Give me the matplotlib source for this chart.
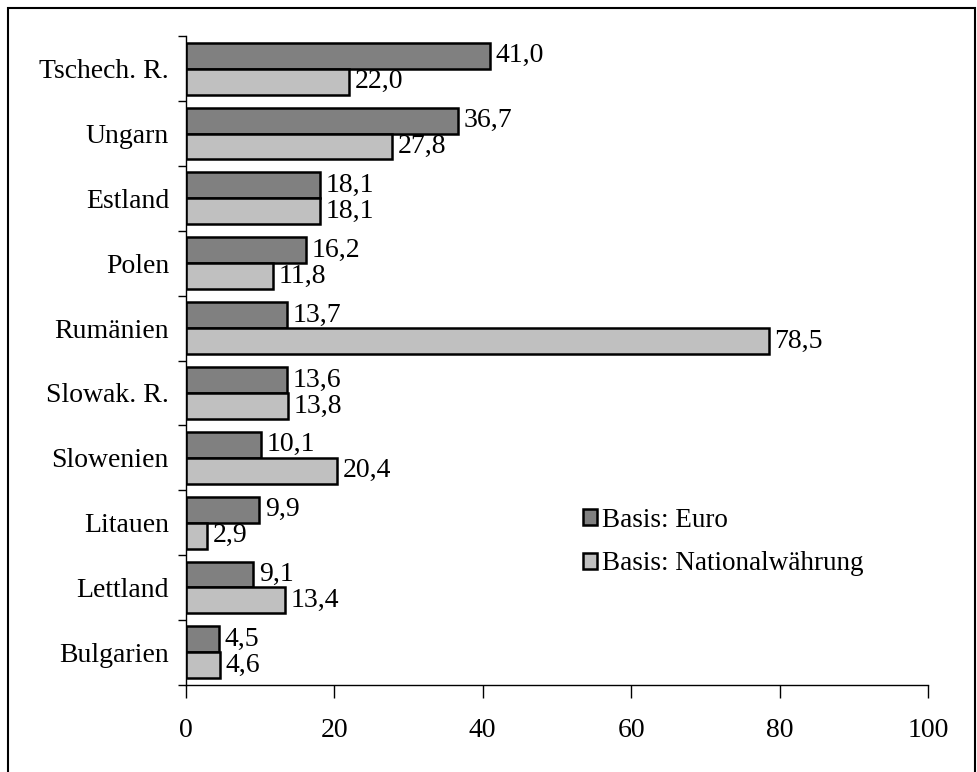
import matplotlib.pyplot as plt
import numpy as np
from matplotlib.patches import Rectangle

plt.rcParams["font.family"] = ["Liberation Serif", "DejaVu Serif"]

laender = ["Tschech. R.", "Ungarn", "Estland", "Polen", "Rumänien",
           "Slowak. R.", "Slowenien", "Litauen", "Lettland", "Bulgarien"]
euro = [41.0, 36.7, 18.1, 16.2, 13.7, 13.6, 10.1, 9.9, 9.1, 4.5]
national = [22.0, 27.8, 18.1, 11.8, 78.5, 13.8, 20.4, 2.9, 13.4, 4.6]
xticks = [0, 20, 40, 60, 80, 100]

fs = 20

fig = plt.figure(figsize=(9.77, 7.72), dpi=100)
ax = fig.add_axes([0.190, 0.113, 0.760, 0.840])

y = np.arange(len(laender))
h = 0.4
b1 = ax.barh(y - h / 2, euro, height=h, color="#808080", edgecolor="black",
             linewidth=1.8, label="Basis: Euro")
b2 = ax.barh(y + h / 2, national, height=h, color="#c0c0c0", edgecolor="black",
             linewidth=1.8, label="Basis: Nationalwährung")

for bars, vals in ((b1, euro), (b2, national)):
    ax.bar_label(bars, labels=[f"{v:.1f}".replace(".", ",") for v in vals],
                 padding=4, fontsize=fs)

ax.set_ylim(len(laender) - 0.5, -0.5)
ax.set_xlim(0, 100)
ax.set_xticks(xticks)
ax.set_xticklabels([str(t) for t in xticks], fontsize=fs)
ax.tick_params(axis="x", direction="out", length=9, width=1, pad=15)

ax.set_yticks(np.arange(-0.5, len(laender), 1.0))
ax.set_yticklabels([])
ax.tick_params(axis="y", which="major", direction="out", length=6, width=1)
ax.set_yticks(y, minor=True)
ax.set_yticklabels(laender, minor=True, fontsize=fs)
ax.tick_params(axis="y", which="minor", length=0, pad=12)

ax.spines["top"].set_visible(False)
ax.spines["right"].set_visible(False)
ax.spines["left"].set_linewidth(1)
ax.spines["bottom"].set_linewidth(1)

ax.legend(loc="upper left", bbox_to_anchor=(0.52, 0.29), frameon=False,
          fontsize=19.5, handlelength=0.55, handleheight=0.55, handletextpad=0.15,
          labelspacing=0.7, borderaxespad=0)

fig.patches.append(Rectangle((0.008, -0.02), 0.99, 1.01, transform=fig.transFigure,
                             fill=False, edgecolor="black", linewidth=1.5))

fig.savefig("out.png", dpi=100)
